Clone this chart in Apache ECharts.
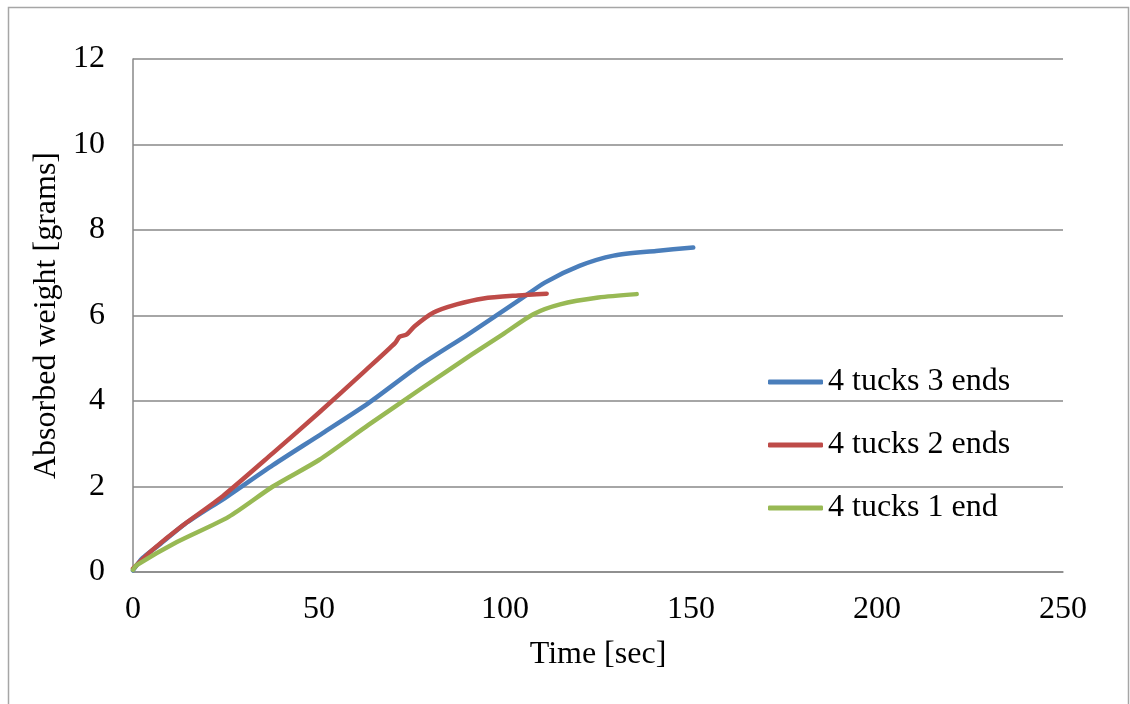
<!DOCTYPE html>
<html>
<head>
<meta charset="utf-8">
<script src="https://cdn.jsdelivr.net/npm/echarts@6/dist/echarts.min.js"></script>
<style>
  html, body { margin: 0; padding: 0; background: #fff; }
  #chart { width: 1130px; height: 704px; }
</style>
</head>
<body>
<div id="chart"></div>
<script>
// Absorbed weight over time for three tuck/end configurations: [time sec, grams]
const seriesNames = ['4 tucks 3 ends', '4 tucks 2 ends', '4 tucks 1 end'];

const threeEnds = [
  [0, 0.04], [2.6, 0.33], [7, 0.63], [13.9, 1.12], [25.2, 1.76], [37.6, 2.50],
  [51, 3.25], [63.3, 3.95], [76.7, 4.81], [90.1, 5.56], [103.5, 6.34],
  [110.7, 6.77], [120, 7.16], [129.2, 7.40], [140.6, 7.51], [150.6, 7.59]
];

const twoEnds = [
  [0, 0.08], [5, 0.50], [12.9, 1.06], [24.2, 1.78], [37.6, 2.78], [49.9, 3.72],
  [62.3, 4.70], [70.5, 5.36], [71.6, 5.50], [73.6, 5.56], [75.7, 5.75],
  [80.8, 6.07], [87, 6.26], [94.2, 6.40], [103.5, 6.47], [111.2, 6.51]
];

const oneEnd = [
  [0, 0.05], [1, 0.16], [11.8, 0.70], [25.7, 1.29], [37.6, 2.00], [50, 2.62],
  [63.3, 3.44], [77.8, 4.31], [91.1, 5.09], [99.4, 5.56], [107.6, 6.03],
  [114.8, 6.26], [125.1, 6.42], [135.4, 6.50]
];

const lineColors = ['#4A7EBB', '#BE4B48', '#98B954'];
const font = '"Liberation Serif", "Times New Roman", serif';
const gridColor = '#898989';

const chart = echarts.init(document.getElementById('chart'));

function lineSeries(name, data, color) {
  return {
    name: name,
    type: 'line',
    data: data,
    smooth: 0.25,
    showSymbol: false,
    symbol: 'none',
    lineStyle: { color: color, width: 4.5, cap: 'round', join: 'round' },
    itemStyle: { color: color }
  };
}

chart.setOption({
  animation: false,
  backgroundColor: '#ffffff',
  textStyle: { fontFamily: font },
  graphic: [{
    type: 'rect',
    shape: { x: 8.5, y: 7.5, width: 1120, height: 720 },
    style: { fill: 'none', stroke: '#a6a6a6', lineWidth: 1.5 },
    silent: true,
    z: -1
  }],
  grid: { left: 133, right: 67, top: 59, bottom: 132, containLabel: false },
  legend: {
    orient: 'vertical',
    left: 763,
    top: 361,
    icon: 'roundRect',
    itemWidth: 55,
    itemHeight: 5,
    itemGap: 31,
    data: seriesNames,
    textStyle: { fontFamily: font, fontSize: 32, color: '#000', lineHeight: 32 }
  },
  xAxis: {
    type: 'value',
    min: 0,
    max: 250,
    interval: 50,
    name: 'Time [sec]',
    nameLocation: 'middle',
    nameGap: 67,
    nameTextStyle: { fontFamily: font, fontSize: 32, color: '#000' },
    axisLine: { show: true, lineStyle: { color: gridColor, width: 1.5 } },
    axisTick: { show: false },
    splitLine: { show: false },
    axisLabel: { fontFamily: font, fontSize: 32, color: '#000', margin: 22 }
  },
  yAxis: {
    type: 'value',
    min: 0,
    max: 12,
    interval: 2,
    name: 'Absorbed weight [grams]',
    nameLocation: 'middle',
    nameGap: 70,
    nameTextStyle: { fontFamily: font, fontSize: 32, color: '#000' },
    axisLine: { show: true, lineStyle: { color: gridColor, width: 1.5 } },
    axisTick: { show: false },
    splitLine: { show: true, lineStyle: { color: gridColor, width: 1.5 } },
    axisLabel: { fontFamily: font, fontSize: 32, color: '#000', margin: 28 }
  },
  series: [
    lineSeries(seriesNames[0], threeEnds, lineColors[0]),
    lineSeries(seriesNames[1], twoEnds, lineColors[1]),
    lineSeries(seriesNames[2], oneEnd, lineColors[2])
  ]
});
</script>
</body>
</html>
